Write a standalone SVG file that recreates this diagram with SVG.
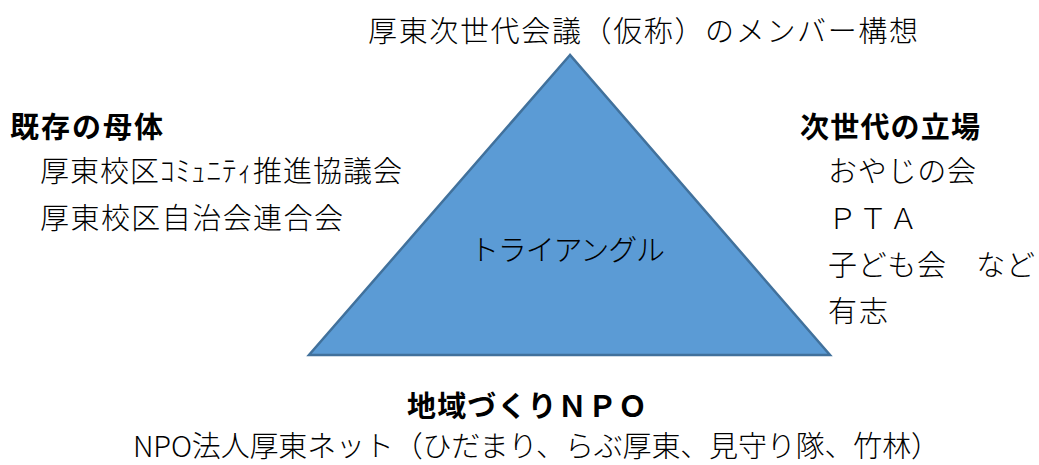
<svg xmlns="http://www.w3.org/2000/svg" width="1039" height="465" viewBox="0 0 1039 465">
<style>
text{font-family:"Noto Sans CJK JP","Noto Sans",sans-serif;font-size:29px;fill:#000;font-weight:300}
.b{font-weight:700}
</style>
<rect width="1039" height="465" fill="#fff"/>
<g id="connectors"></g>
<g id="triangle">
<polygon points="570,55 309,355 830,355" fill="#5B9BD5" stroke="#41719C" stroke-width="2.5" stroke-linejoin="miter"/>
<text x="470" y="261" textLength="195">トライアングル</text>
</g>
<g id="title">
<text x="368" y="42" textLength="550">厚東次世代会議（仮称）のメンバー構想</text>
</g>
<g id="existing">
<text class="b" x="10" y="138" textLength="153">既存の母体</text>
<text x="40" y="182" textLength="362">厚東校区ｺﾐｭﾆﾃｨ推進協議会</text>
<text x="40" y="229" textLength="303">厚東校区自治会連合会</text>
</g>
<g id="nextgen">
<text class="b" x="800" y="138" textLength="180">次世代の立場</text>
<text x="828" y="182" textLength="148">おやじの会</text>
<text x="828" y="229" textLength="90">ＰＴＡ</text>
<text x="828" y="276" textLength="207">子ども会　など</text>
<text x="828" y="322" textLength="60">有志</text>
</g>
<g id="npo">
<text class="b" x="407" y="417" textLength="240">地域づくりＮＰＯ</text>
<text x="133" y="457" textLength="807">NPO法人厚東ネット（ひだまり、らぶ厚東、見守り隊、竹林）</text>
</g>
</svg>
